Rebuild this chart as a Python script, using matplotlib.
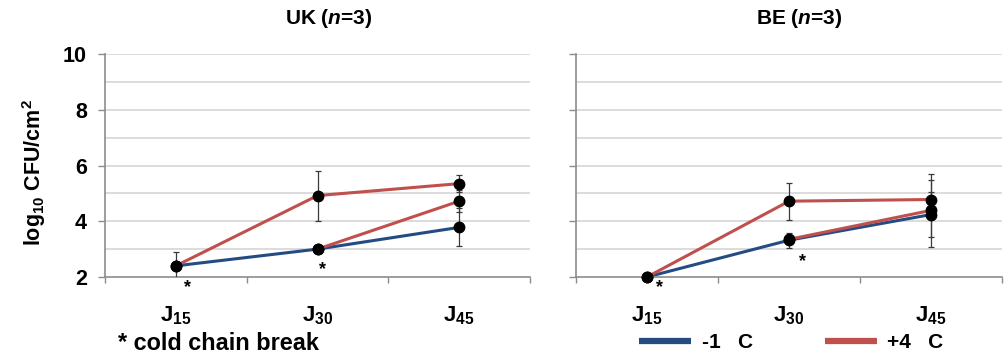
import numpy as np
import matplotlib
matplotlib.use("Agg")
import matplotlib.pyplot as plt
from matplotlib.lines import Line2D

plt.rcParams['font.family'] = ['Liberation Sans', 'DejaVu Sans']
plt.rcParams['font.weight'] = 'bold'
plt.rcParams['mathtext.fontset'] = 'custom'
plt.rcParams['mathtext.rm'] = 'Liberation Sans:bold'
plt.rcParams['mathtext.bf'] = 'Liberation Sans:bold'
plt.rcParams['mathtext.it'] = 'Liberation Sans:bold:italic'
plt.rcParams['mathtext.default'] = 'bf'

# Sampling days
days = ['J$_{15}$', 'J$_{30}$', 'J$_{45}$']

# UK (n=3)
uk_minus1 = [2.40, 3.00, 3.78]
uk_minus1_err = [0.48, 0.05, 0.68]
uk_plus4 = [2.40, 4.92, 5.35]
uk_plus4_err = [0.0, 0.90, 0.30]
uk_break = [np.nan, 3.00, 4.72]
uk_break_err = [np.nan, 0.05, 0.40]

# BE (n=3)
be_minus1 = [2.00, 3.32, 4.24]
be_minus1_err = [0.0, 0.27, 0.80]
be_plus4 = [2.00, 4.72, 4.78]
be_plus4_err = [0.0, 0.67, 0.70]
be_break = [np.nan, 3.35, 4.39]
be_break_err = [np.nan, 0.10, 1.30]

# Days flagged as cold chain breaks: (day index, y position of the star, x shift)
uk_stars = [(0, 1.62, 12), (1, 2.25, 5)]
be_stars = [(0, 1.62, 12), (1, 2.57, 13)]

BLUE = '#244c82'
RED = '#c0504d'
GRID = '#d9d9d9'
AXIS = '#8c8c8c'

fig = plt.figure(figsize=(10.05, 3.56), dpi=100)
ax_uk = fig.add_axes([105 / 1005, 79 / 356, 425 / 1005, 223 / 356])
ax_be = fig.add_axes([576 / 1005, 79 / 356, 426 / 1005, 223 / 356])

x = np.arange(len(days))


def draw_panel(ax, minus1, minus1_err, plus4, plus4_err, brk, brk_err, stars,
               show_ylabels):
    ax.set_xlim(-0.5, 2.5)
    ax.set_ylim(2, 10)
    for yv in np.arange(3, 11, 1):
        ax.axhline(yv, color=GRID, lw=1.3, zorder=0)
    ax.set_yticks([2, 4, 6, 8, 10])
    if show_ylabels:
        ax.set_yticklabels(['2', '4', '6', '8', '10'], fontsize=15.5,
                           fontweight='bold')
    else:
        ax.set_yticklabels([])
    ax.tick_params(axis='y', direction='out', length=5, color=AXIS, width=1,
                   pad=8)
    ax.set_xticks(x)
    ax.set_xticklabels(days, fontsize=16)
    ax.set_xticks([-0.5, 0.5, 1.5, 2.5], minor=True)
    ax.tick_params(axis='x', which='major', length=0, pad=20)
    ax.tick_params(axis='x', which='minor', direction='out', length=4,
                   color=AXIS, width=1)
    for s in ['top', 'right']:
        ax.spines[s].set_visible(False)
    for s in ['left', 'bottom']:
        ax.spines[s].set_color(AXIS)
        ax.spines[s].set_linewidth(1.2)

    eb = dict(fmt='none', ecolor='#3a3a3a', elinewidth=0.9, capsize=2,
              capthick=0.9, zorder=4, clip_on=True)
    ax.errorbar(x, minus1, yerr=minus1_err, **eb)
    ax.errorbar(x, plus4, yerr=plus4_err, **eb)
    ax.errorbar(x, brk, yerr=brk_err, **eb)

    ax.plot(x, minus1, color=BLUE, lw=2.2, zorder=2, solid_capstyle='butt')
    ax.plot(x, plus4, color=RED, lw=2.2, zorder=3, solid_capstyle='butt')
    ax.plot(x, brk, color=RED, lw=2.2, zorder=3, solid_capstyle='butt')

    mk = dict(ls='none', marker='o', ms=7.5, color='black', zorder=5,
              clip_on=False)
    ax.plot(x, minus1, **mk)
    ax.plot(x, plus4, **mk)
    ax.plot(x, brk, **mk)

    for i, ys, dx in stars:
        ax.annotate('*', xy=(x[i], ys), xytext=(dx, 0),
                    textcoords='offset pixels', ha='center', va='center',
                    fontsize=13, fontweight='bold', annotation_clip=False)


draw_panel(ax_uk, uk_minus1, uk_minus1_err, uk_plus4, uk_plus4_err,
           uk_break, uk_break_err, uk_stars, True)
draw_panel(ax_be, be_minus1, be_minus1_err, be_plus4, be_plus4_err,
           be_break, be_break_err, be_stars, False)

ax_uk.set_ylabel('log$_{10}$ CFU/cm$^{2}$', fontsize=15.5, fontweight='bold')
ax_uk.yaxis.set_label_coords(-0.134, 0.47)

fig.text(329 / 1005, 1 - 19 / 356, 'UK ($\\mathit{n}$=3)', ha='center',
         va='center', fontsize=15, fontweight='bold')
fig.text(799 / 1005, 1 - 19 / 356, 'BE ($\\mathit{n}$=3)', ha='center',
         va='center', fontsize=15, fontweight='bold')

fig.text(118 / 1005, 1 - 343 / 356, '* cold chain break', ha='left',
         va='center', fontsize=16.9, fontweight='bold')

handles = [Line2D([], [], color=BLUE, lw=4.5, solid_capstyle='butt'),
           Line2D([], [], color=RED, lw=4.5, solid_capstyle='butt')]
fig.legend(handles, ['-1   C', '+4   C'], loc='center left',
           bbox_to_anchor=(639 / 1005, 1 - 343 / 356), ncol=2, frameon=False,
           prop={'size': 15, 'weight': 'bold'}, handlelength=2.5,
           handletextpad=0.5, columnspacing=3.45, borderaxespad=0,
           borderpad=0)

fig.savefig('out.png', dpi=100)
